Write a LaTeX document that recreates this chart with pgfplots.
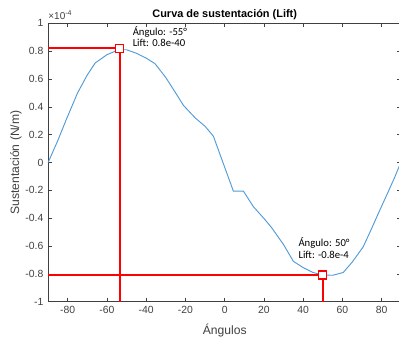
\documentclass[border=0pt]{standalone}
\usepackage{fontspec}
\setmainfont{Liberation Sans}
\newfontfamily\calib{Carlito}
\usepackage{pgfplots}
\pgfplotsset{compat=1.18}
\definecolor{mblue}{RGB}{80,155,215}
\definecolor{mgray}{RGB}{64,64,64}
\begin{document}
\begin{tikzpicture}
\begin{axis}[
  scale only axis,
  width=264.9pt, height=208.8pt,
  xmin=-90, xmax=90, ymin=-1, ymax=1,
  xtick={-80,-60,...,80},
  ytick={-1,-0.8,...,1},
  yticklabels={-1,-0.8,-0.6,-0.4,-0.2,0,0.2,0.4,0.6,0.8,1},
  scaled y ticks=false,
  /pgf/number format/assume math mode=true,
  tick align=inside,
  major tick length=3pt,
  axis line style={mgray, line width=0.5pt},
  every tick/.style={mgray, line width=0.5pt},
  tick label style={font=\fontsize{7.8}{9}\selectfont, text=mgray},
  xlabel={Ángulos},
  ylabel={Sustentación (N/m)},
  label style={font=\fontsize{9.1}{11}\selectfont, text=mgray},
  xlabel style={at={(axis description cs:0.5,-0.116)}, anchor=base},
  ylabel style={at={(axis description cs:-0.0823,0.5)}, anchor=base},
  every axis title shift=0pt,
  title={Curva de sustentación (Lift)},
  title style={font=\bfseries\fontsize{8.2}{10}\selectfont, at={(axis description cs:0.5,1)}, anchor=base, yshift=4.6pt},
  clip=false,
]
\addplot[mblue, line width=0.7pt] coordinates {
(-90,0) (-85,0.16) (-81,0.30) (-75,0.50) (-70,0.63) (-66,0.715)
(-60,0.775) (-54,0.81) (-50,0.81) (-45,0.785) (-40,0.75) (-35.5,0.71)
(-30,0.61) (-25,0.50) (-21,0.41) (-15,0.32) (-10,0.26) (-5.8,0.19)
(4.4,-0.205) (9.5,-0.205) (14.6,-0.317) (20.5,-0.41) (24,-0.47) (30,-0.59)
(35,-0.71) (40,-0.755) (45,-0.79) (50,-0.808) (55,-0.81) (60.4,-0.79)
(65,-0.715) (70.6,-0.605) (75,-0.47) (79.1,-0.34) (83,-0.22) (86.8,-0.10) (90,0.01)
};
\addplot[red, line width=1.4pt] coordinates {(-90,0.82) (-53.4,0.82)};
\addplot[red, line width=1.4pt] coordinates {(-53.4,-1) (-53.4,0.82)};
\addplot[red, line width=1.4pt] coordinates {(-90,-0.808) (49.9,-0.808)};
\addplot[red, line width=1.4pt] coordinates {(49.9,-1) (49.9,-0.808)};
\addplot[only marks, mark=square*, mark size=3pt, mark options={fill=white, draw=red, line width=0.8pt}] coordinates {(-53.4,0.82) (49.9,-0.808)};
\node[anchor=base west, font=\calib\fontsize{8}{9}\selectfont, inner sep=0pt] at (axis cs:-47,0.916) {Ángulo: -55°};
\node[anchor=base west, font=\calib\fontsize{8}{9}\selectfont, inner sep=0pt] at (axis cs:-47,0.83) {Lift: 0.8e-40};
\node[anchor=base west, font=\calib\fontsize{8}{9}\selectfont, inner sep=0pt] at (axis cs:37.5,-0.60) {Ángulo: 50°};
\node[anchor=base west, font=\calib\fontsize{8}{9}\selectfont, inner sep=0pt] at (axis cs:37.5,-0.686) {Lift: -0.8e-4};
\node[anchor=base west, font=\fontsize{7.5}{9}\selectfont, text=mgray, inner sep=0pt] at (rel axis cs:0,1) [yshift=3pt] {×10\textsuperscript{-4}};
\end{axis}
\pgfresetboundingbox
\path[use as bounding box] ([shift={(-36.08pt,-27.2pt)}]current axis.south west) rectangle ++(299.25pt,253.5pt);
\end{tikzpicture}
\end{document}
